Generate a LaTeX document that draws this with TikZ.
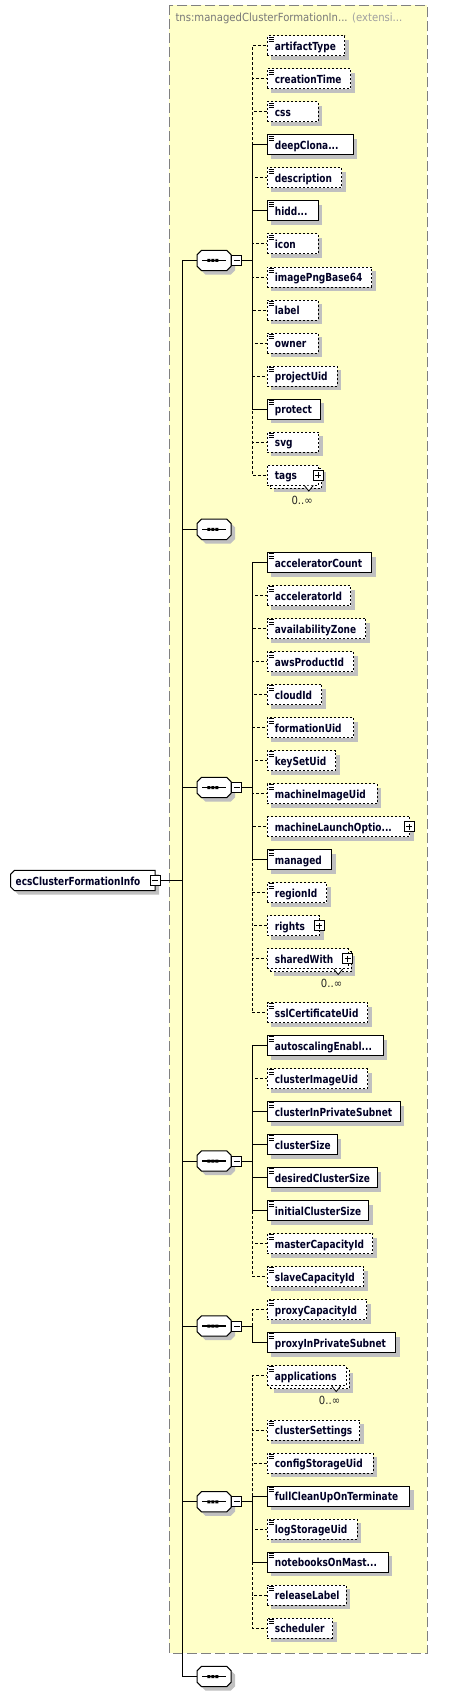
\documentclass[tikz,border=0pt]{standalone}
\usepackage{fontspec}
\usetikzlibrary{shadows}
\newfontfamily\efontfam{DejaVu Sans}[FakeStretch=0.81]
\newfontfamily\tfontfam{DejaVu Sans}[FakeStretch=0.9]
\newcommand\efont{\efontfam\bfseries\fontsize{11.1}{13}\selectfont}
\newcommand\tfont{\tfontfam\fontsize{11.2}{13}\selectfont}
\definecolor{shc}{RGB}{192,192,192}
\definecolor{yel}{RGB}{255,255,200}
\definecolor{ybd}{RGB}{128,128,128}
\definecolor{ttl}{RGB}{120,120,120}
\definecolor{ttl2}{RGB}{160,160,160}
\tikzset{
 ebox/.style={draw,fill=white,rectangle,inner sep=0pt,minimum height=20pt,anchor=west,line width=1pt},
 opt/.style={dash pattern=on 2pt off 2pt},
 req/.style={solid},
 shd/.style={drop shadow={shadow xshift=4pt,shadow yshift=-4pt,fill=shc,opacity=1}},
 etext/.style={anchor=base west,inner sep=0pt,font=\efont,text=black!85!blue},
 pm/.style={draw,fill=white,rectangle,minimum size=10pt,inner sep=0pt,line width=1pt},
 comp/.style={rectangle,minimum width=33.7pt,minimum height=20pt,inner sep=0pt},
 conn/.style={line width=1pt},
 copt/.style={line width=1pt,dash pattern=on 3pt off 2pt},
 eicon/.style={line width=0.8pt},
}
% simple-type element: name, y, width, style, text
\newcommand\elS[5]{%
  \node[ebox,#4,minimum width=#3] (#1) at (266.7,#2) {};
  \draw[eicon] ([xshift=1.8pt,yshift=-1.6pt]#1.north west) -- ++(5,0)
     ([xshift=1.8pt,yshift=-3.9pt]#1.north west) -- ++(5,0)
     ([xshift=1.8pt,yshift=-6.2pt]#1.north west) -- ++(5,0);
  \node[etext] (#1t) at ([xshift=8pt,yshift=-4.5pt]#1.west) {#5};
}
% complex-type element with plus box
\newcommand\elC[5]{%
  \node[ebox,#4,minimum width=#3] (#1) at (266.7,#2) {};
  \node[etext] (#1t) at ([xshift=8pt,yshift=-4.5pt]#1.west) {#5};
  \node[pm] (#1p) at ([xshift=-1pt]#1.east) {};
  \draw[line width=1pt] ([xshift=-3pt]#1p.center) -- ([xshift=3pt]#1p.center)
     ([yshift=-3pt]#1p.center) -- ([yshift=3pt]#1p.center);
}
% back box of a repeated element
\newcommand\backbox[3]{%
  \node[ebox,opt,shd,minimum width=#3] (#1b) at (269.7,{#2+3}) {};
}
% notch and occurrence label
\newcommand\notch[1]{%
  \draw[fill=white,line width=0.8pt] ([xshift=-15pt]#1.south east) -- ([xshift=-10.5pt,yshift=-5.5pt]#1.south east) -- ([xshift=-6pt]#1.south east);
  \node[anchor=base east,inner sep=0pt,font=\tfont,text=black!85] (#1o) at ([xshift=-6.3pt,yshift=-18.5pt]#1.south east) {0..∞};
}
% compositor (sequence)
\newcommand\compo[2]{%
  \node[comp] (#1) at (214.15,#2) {};
  \draw[fill=white,shd,line width=1pt] ([xshift=4.5pt]#1.north west) -- ([xshift=-4.5pt]#1.north east) -- ([yshift=-4.5pt]#1.north east) -- ([yshift=4.5pt]#1.south east) -- ([xshift=-4.5pt]#1.south east) -- ([xshift=4.5pt]#1.south west) -- ([yshift=4.5pt]#1.south west) -- ([yshift=-4.5pt]#1.north west) -- cycle;
  \draw[line width=1.2pt] ([xshift=5pt]#1.west) -- ([xshift=-5.5pt]#1.east);
  \fill ([xshift=-6.8pt,yshift=-1.5pt]#1.center) rectangle ++(3,-3)
        ([xshift=-2.8pt,yshift=-1.5pt]#1.center) rectangle ++(3,-3)
        ([xshift=1.2pt,yshift=-1.5pt]#1.center) rectangle ++(3,-3);
}
\newcommand\cminus[1]{%
  \node[pm] (#1m) at ([xshift=5.7pt]#1.east) {};
  \draw[line width=1pt] ([xshift=-3pt]#1m.center) -- ([xshift=3pt]#1m.center);
}
\newcommand\cn[3]{\draw[#1] (#2m.east) -- ++(9.6,0) |- (#3.west);}
\newcommand\mn[1]{\draw[conn] (rootm.east) -- ++(21.7,0) |- (#1.west);}

\begin{document}
\begin{tikzpicture}[x=1pt,y=-1pt]
\useasboundingbox (0,0) rectangle (459,1696);
\fill[white] (0,0) rectangle (459,1696);
% complex type background
\draw[fill=yel,draw=ybd,line width=1pt,dash pattern=on 10pt off 4pt] (169.3,5.3) rectangle (427.3,1653.3);
\node[anchor=base west,inner sep=0pt,font=\tfont,text=ttl] (title) at (175.3,21.3) {tns:managedClusterFormationIn...\hspace{4.5pt}\textcolor{ttl2}{(extensi...}};

% root element
\node[rectangle,minimum width=144.3pt,minimum height=20pt,inner sep=0pt] (root) at (82.85,880.5) {};
\draw[fill=white,shd,line width=1pt] ([xshift=4pt]root.north west) -- (root.north east) -- (root.south east) -- ([xshift=4pt]root.south west) -- ([yshift=4pt]root.south west) -- ([yshift=-4pt]root.north west) -- cycle;
\node[etext] (roott) at ([xshift=5pt,yshift=-4.5pt]root.west) {ecsClusterFormationInfo};
\node[pm] (rootm) at (root.east) {};
\draw[line width=1pt] ([xshift=-3pt]rootm.center) -- ([xshift=3pt]rootm.center);

% compositors
\compo{ca}{260.5}\cminus{ca}
\compo{cb}{529.3}
\compo{cc}{787.5}\cminus{cc}
\compo{cd}{1161}\cminus{cd}
\compo{ce}{1326}\cminus{ce}
\compo{cf}{1501.75}\cminus{cf}
\compo{cg}{1676.5}

% group 1
\elS{artifactType}{46}{77.7}{opt,shd}{artifactType}
\elS{creationTime}{79}{83.3}{opt,shd}{creationTime}
\elS{css}{112}{51}{opt,shd}{css}
\elS{deepClona}{145}{86}{req,shd}{deepClona...}
\elS{description}{178}{74.3}{opt,shd}{description}
\elS{hidd}{211}{51}{req,shd}{hidd...}
\elS{icon}{244}{51}{opt,shd}{icon}
\elS{imagePngBase}{277}{104.3}{opt,shd}{imagePngBase64}
\elS{label}{310}{51}{opt,shd}{label}
\elS{owner}{343}{51}{opt,shd}{owner}
\elS{projectUid}{376}{70}{opt,shd}{projectUid}
\elS{protect}{409}{53}{req,shd}{protect}
\elS{svg}{442}{51.7}{opt,shd}{svg}
\backbox{tags}{475}{51.6}
\elC{tags}{475}{51.6}{opt}{tags}
\notch{tags}

% group 3
\elS{acceleratorCount}{562.5}{104.3}{req,shd}{acceleratorCount}
\elS{acceleratorId}{595.5}{83.3}{opt,shd}{acceleratorId}
\elS{availabilityZone}{628.5}{98.7}{opt,shd}{availabilityZone}
\elS{awsProductId}{661.5}{86.3}{opt,shd}{awsProductId}
\elS{cloudId}{694.5}{54.7}{opt,shd}{cloudId}
\elS{formationUid}{727.5}{86.3}{opt,shd}{formationUid}
\elS{keySetUid}{760.5}{68.3}{opt,shd}{keySetUid}
\elS{machineImageUid}{793.5}{110}{opt,shd}{machineImageUid}
\elC{machineLaunch}{826.5}{142.7}{opt,shd}{machineLaunchOptio...}
\elS{managed}{859.5}{64.3}{req,shd}{managed}
\elS{regionId}{892.5}{59.3}{opt,shd}{regionId}
\elC{rights}{925.5}{52.3}{opt,shd}{rights}
\backbox{sharedWith}{958.5}{81}
\elC{sharedWith}{958.5}{81}{opt}{sharedWith}
\notch{sharedWith}
\elS{sslCertificateUid}{1012.5}{100.7}{opt,shd}{sslCertificateUid}

% group 4
\elS{autoscaling}{1045.5}{116}{req,shd}{autoscalingEnabl...}
\elS{clusterImageUid}{1078.5}{100.3}{opt,shd}{clusterImageUid}
\elS{clusterInPrivateSubnet}{1111.5}{133}{req,shd}{clusterInPrivateSubnet}
\elS{clusterSize}{1144.5}{70}{req,shd}{clusterSize}
\elS{desiredClusterSize}{1177.5}{110}{req,shd}{desiredClusterSize}
\elS{initialClusterSize}{1210.5}{101.3}{req,shd}{initialClusterSize}
\elS{masterCapacityId}{1243.5}{105.7}{opt,shd}{masterCapacityId}
\elS{slaveCapacityId}{1276.5}{96.7}{opt,shd}{slaveCapacityId}

% group 5
\elS{proxyCapacityId}{1309.5}{99.7}{opt,shd}{proxyCapacityId}
\elS{proxyInPrivateSubnet}{1342.5}{128.7}{req,shd}{proxyInPrivateSubnet}

% group 6
\backbox{applications}{1375.5}{79}
\elS{applications}{1375.5}{79}{opt}{applications}
\notch{applications}
\elS{clusterSettings}{1430}{92.3}{opt,shd}{clusterSettings}
\elS{configStorageUid}{1463}{106}{opt,shd}{configStorageUid}
\elS{fullCleanUp}{1496}{142.7}{req,shd}{fullCleanUpOnTerminate}
\elS{logStorageUid}{1529}{90}{opt,shd}{logStorageUid}
\elS{notebooks}{1562}{121}{req,shd}{notebooksOnMast...}
\elS{releaseLabel}{1595}{79}{opt,shd}{releaseLabel}
\elS{scheduler}{1628}{65.3}{opt,shd}{scheduler}

% main connectors
\mn{ca}\mn{cb}\mn{cc}\mn{cd}\mn{ce}\mn{cf}\mn{cg}

% group 1 connectors (dashed first, then solid)
\cn{copt}{ca}{artifactType}\cn{copt}{ca}{creationTime}\cn{copt}{ca}{css}
\cn{copt}{ca}{description}\cn{copt}{ca}{icon}\cn{copt}{ca}{imagePngBase}
\cn{copt}{ca}{label}\cn{copt}{ca}{owner}\cn{copt}{ca}{projectUid}
\cn{copt}{ca}{svg}\cn{copt}{ca}{tags}
\cn{conn}{ca}{deepClona}\cn{conn}{ca}{hidd}\cn{conn}{ca}{protect}

% group 3 connectors
\cn{copt}{cc}{acceleratorId}\cn{copt}{cc}{availabilityZone}\cn{copt}{cc}{awsProductId}
\cn{copt}{cc}{cloudId}\cn{copt}{cc}{formationUid}\cn{copt}{cc}{keySetUid}
\cn{copt}{cc}{machineImageUid}\cn{copt}{cc}{machineLaunch}\cn{copt}{cc}{regionId}
\cn{copt}{cc}{rights}\cn{copt}{cc}{sharedWith}\cn{copt}{cc}{sslCertificateUid}
\cn{conn}{cc}{acceleratorCount}\cn{conn}{cc}{managed}

% group 4 connectors
\cn{copt}{cd}{clusterImageUid}\cn{copt}{cd}{masterCapacityId}\cn{copt}{cd}{slaveCapacityId}
\cn{conn}{cd}{autoscaling}\cn{conn}{cd}{clusterInPrivateSubnet}\cn{conn}{cd}{clusterSize}
\cn{conn}{cd}{desiredClusterSize}\cn{conn}{cd}{initialClusterSize}

% group 5 connectors
\cn{copt}{ce}{proxyCapacityId}\cn{conn}{ce}{proxyInPrivateSubnet}

% group 6 connectors
\cn{copt}{cf}{applications}\cn{copt}{cf}{clusterSettings}\cn{copt}{cf}{configStorageUid}
\cn{copt}{cf}{logStorageUid}\cn{copt}{cf}{releaseLabel}\cn{copt}{cf}{scheduler}
\cn{conn}{cf}{fullCleanUp}\cn{conn}{cf}{notebooks}
\end{tikzpicture}
\end{document}
